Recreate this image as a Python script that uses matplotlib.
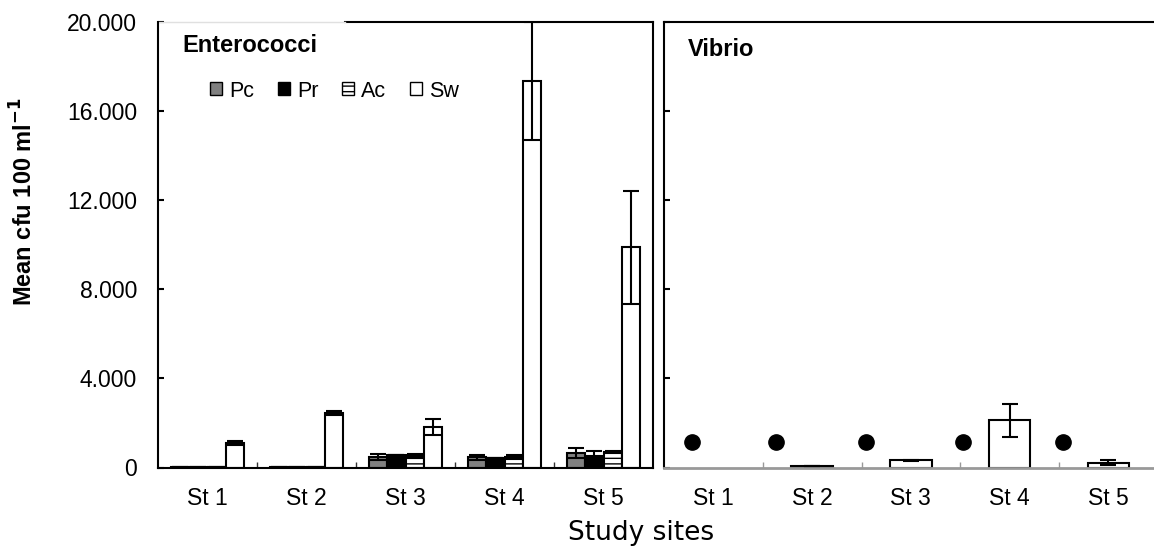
import numpy as np
import matplotlib.pyplot as plt
from matplotlib.patches import Patch

plt.rcParams['font.family'] = ['Liberation Sans', 'DejaVu Sans']
plt.rcParams['hatch.linewidth'] = 1.0

sites = ["St 1", "St 2", "St 3", "St 4", "St 5"]
series = ["Pc", "Pr", "Ac", "Sw"]

# Enterococci, mean cfu 100 ml-1
ent_pc = [30, 30, 470, 450, 640]
ent_pc_err = [0, 0, 130, 130, 230]
ent_pr = [30, 30, 540, 430, 500]
ent_pr_err = [0, 0, 0, 0, 230]
ent_ac = [30, 30, 520, 480, 700]
ent_ac_err = [0, 0, 80, 90, 60]
ent_sw = [1090, 2440, 1820, 17350, 9880]
ent_sw_err = [90, 80, 350, 2650, 2520]

# Vibrio (Sw only; St 1 not detected)
vib_sw = [np.nan, 60, 320, 2110, 210]
vib_sw_err = [0, 10, 20, 720, 120]
# dots drawn in the Vibrio panel
dot_x = [-0.22, 0.63, 1.55, 2.53, 3.54]
dot_y = [1150, 1150, 1150, 1150, 1150]

yticks = [0, 4000, 8000, 12000, 16000, 20000]
ytick_labels = ["0", "4.000", "8.000", "12.000", "16.000", "20.000"]

fills = {"Pc": "#808080", "Pr": "black", "Ac": "white", "Sw": "white"}
hatches = {"Pc": None, "Pr": None, "Ac": "---", "Sw": None}

W, H = 1154, 550
fig = plt.figure(figsize=(W / 100, H / 100), dpi=100)
ax1 = fig.add_axes([158 / W, 82.5 / H, 495 / W, 445.5 / H])
ax2 = fig.add_axes([664 / W, 82.5 / H, 490 / W, 445.5 / H])

x = np.arange(len(sites))
bw = 0.186
ent_vals = [ent_pc, ent_pr, ent_ac, ent_sw]
ent_errs = [ent_pc_err, ent_pr_err, ent_ac_err, ent_sw_err]
for i, name in enumerate(series):
    pos = x + (i - 1.5) * bw
    ax1.bar(pos, ent_vals[i], bw, color=fills[name], edgecolor="black",
            linewidth=1.5, hatch=hatches[name], zorder=2)
    ax1.errorbar(pos, ent_vals[i], yerr=ent_errs[i], fmt="none", ecolor="black",
                 elinewidth=1.5, capsize=6, capthick=1.5, zorder=3)

vib = np.array(vib_sw, dtype=float)
ok = ~np.isnan(vib)
ax2.bar(x[ok], vib[ok], 0.42, color="white", edgecolor="black", linewidth=1.5, zorder=2)
ax2.errorbar(x[ok], vib[ok], yerr=np.array(vib_sw_err)[ok], fmt="none", ecolor="black",
             elinewidth=1.5, capsize=6, capthick=1.5, zorder=3)
ax2.plot(dot_x, dot_y, "o", color="black", markersize=11, zorder=4)

for ax in (ax1, ax2):
    ax.set_ylim(0, 20000)
    ax.set_yticks(yticks)
    ax.set_xticks(x)
    ax.set_xticklabels(sites, fontsize=16.5)
    ax.set_xticks(x[:-1] + 0.5, minor=True)
    ax.tick_params(axis="x", which="major", length=0, pad=14)
    ax.tick_params(axis="x", which="minor", direction="in", length=4, width=1)
    ax.tick_params(axis="y", direction="in", length=4.5, width=1.5)
    ax.spines["top"].set_visible(False)
    ax.spines["left"].set_linewidth(1.5)

ax1.set_xlim(-0.5, 4.5)
ax1.set_yticklabels(ytick_labels, fontsize=16.5)
ax1.tick_params(axis="y", pad=15)
ax1.tick_params(axis="x", which="minor", color="#333333")
ax1.spines["right"].set_linewidth(1.5)
ax1.spines["bottom"].set_linewidth(1.5)
ax1.plot([0.378, 1], [1, 1], transform=ax1.transAxes, color="black", lw=1.5, clip_on=False)
ax1.plot([0, 0.378], [1, 1], transform=ax1.transAxes, color="#e0e0e0", lw=1, clip_on=False)
ax1.text(0.05, 0.948, "Enterococci", transform=ax1.transAxes, fontsize=17,
         fontweight="bold", va="center", ha="left")

handles = [Patch(facecolor=fills[s], edgecolor="black", hatch=hatches[s], linewidth=1)
           for s in series]
ax1.legend(handles, series, ncol=4, loc="center left", bbox_to_anchor=(0.105, 0.845),
           frameon=False, fontsize=15.5, handlelength=0.56, handleheight=0.56,
           handletextpad=0.33, columnspacing=1.1, borderpad=0, borderaxespad=0)

ax2.set_xlim(-0.5, -0.5 + 490 / 98.75)
ax2.set_yticklabels([])
ax2.tick_params(axis="x", which="minor", color="#999999")
ax2.spines["right"].set_visible(False)
ax2.spines["bottom"].set_color("#999999")
ax2.spines["bottom"].set_linewidth(2)
ax2.plot([0, 1], [1, 1], transform=ax2.transAxes, color="black", lw=1.5, clip_on=False)
ax2.text(0.049, 0.939, "Vibrio", transform=ax2.transAxes, fontsize=17,
         fontweight="bold", va="center", ha="left")

fig.text(24 / W, 1 - 202 / H, r"Mean cfu 100 ml$^{\mathbf{-1}}$", rotation=90,
         fontsize=17, fontweight="bold", ha="center", va="center")
fig.text(641 / W, 1 - 533 / H, "Study sites", fontsize=19, family="DejaVu Sans",
         ha="center", va="center")

fig.savefig("out.png", dpi=100)
